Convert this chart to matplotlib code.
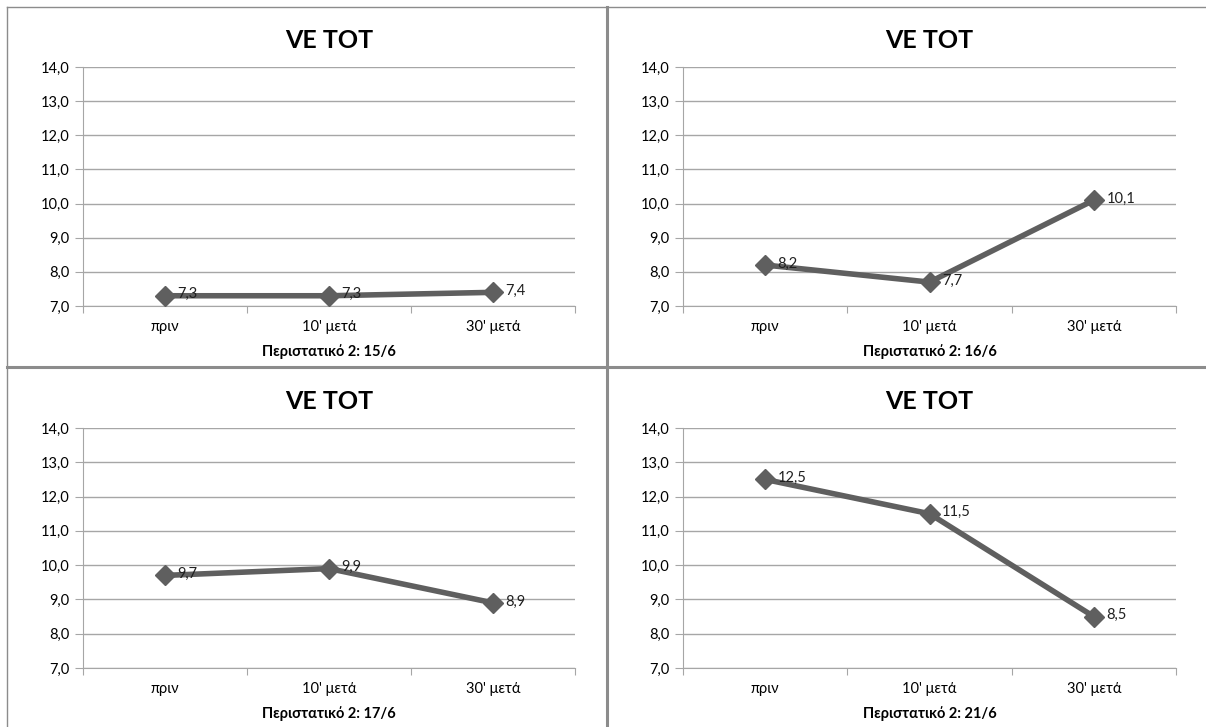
import matplotlib.pyplot as plt
from matplotlib.lines import Line2D

plt.rcParams['font.family'] = ['Lato', 'Noto Sans', 'DejaVu Sans']

categories = ["πριν", "10' μετά", "30' μετά"]
titles = ["VE TOT", "VE TOT", "VE TOT", "VE TOT"]
subtitles = ["Περιστατικό 2: 15/6", "Περιστατικό 2: 16/6",
             "Περιστατικό 2: 17/6", "Περιστατικό 2: 21/6"]
values_1 = [7.3, 7.3, 7.4]
values_2 = [8.2, 7.7, 10.1]
values_3 = [9.7, 9.9, 8.9]
values_4 = [12.5, 11.5, 8.5]
yticks = [7, 8, 9, 10, 11, 12, 13, 14]

W, H = 1206, 727
fig = plt.figure(figsize=(W / 100, H / 100), dpi=100)

# axes boxes in pixels: left, right, top, bottom
boxes = [(83, 575, 67, 306), (683, 1176, 67, 306),
         (83, 575, 428, 668), (683, 1176, 428, 668)]
series = [values_1, values_2, values_3, values_4]

grid_col = '#a6a6a6'
line_col = '#5f5f5f'

for (l, r, t, b), vals, title, sub in zip(boxes, series, titles, subtitles):
    ax = fig.add_axes([l / W, 1 - b / H, (r - l) / W, (b - t) / H])
    x = range(len(categories))
    ax.plot(x, vals, color=line_col, lw=4, marker='D', ms=10,
            markeredgecolor=line_col, zorder=3)
    for xi, v in zip(x, vals):
        ax.annotate(f"{v:.1f}".replace('.', ','), (xi, v), xytext=(9, 1),
                    textcoords='offset points', va='center', ha='left',
                    fontsize=10.5, color='#202020', zorder=4)
    ax.set_xlim(-0.5, 2.5)
    ax.set_ylim(7, 14)
    ax.set_yticks(yticks)
    ax.set_yticklabels([f"{v:.1f}".replace('.', ',') for v in yticks])
    ax.yaxis.grid(True, color=grid_col, lw=1)
    ax.set_axisbelow(True)
    ax.set_xticks([-0.5, 0.5, 1.5, 2.5])
    ax.set_xticklabels([])
    ax.set_xticks(list(x), minor=True)
    ax.set_xticklabels(categories, minor=True)
    ax.tick_params(axis='x', which='minor', length=0, pad=10, labelsize=10.5)
    ax.tick_params(axis='x', which='major', length=5, color=grid_col)
    ax.tick_params(axis='y', length=6, color=grid_col, labelsize=10.5)
    for s in ['top', 'right']:
        ax.spines[s].set_visible(False)
    for s in ['left', 'bottom']:
        ax.spines[s].set_color(grid_col)
    ax.set_title(title, fontsize=18, fontweight='bold', pad=14)
    ax.annotate(sub, (0.5, 0), xycoords='axes fraction', xytext=(0, -33),
                textcoords='offset points', ha='center', va='center',
                fontsize=10.5, fontweight='bold')

# panel borders
def fline(x0, y0, x1, y1, lw):
    fig.add_artist(Line2D([x0 / W, x1 / W], [1 - y0 / H, 1 - y1 / H],
                          color='#8c8c8c', lw=lw))

fline(7, 7, 1206, 7, 1)
fline(7, 7, 7, 727, 1)
fline(607, 7, 607, 727, 2.2)
fline(7, 367, 1206, 367, 2.2)

fig.savefig('out.png', dpi=100, facecolor='white')
